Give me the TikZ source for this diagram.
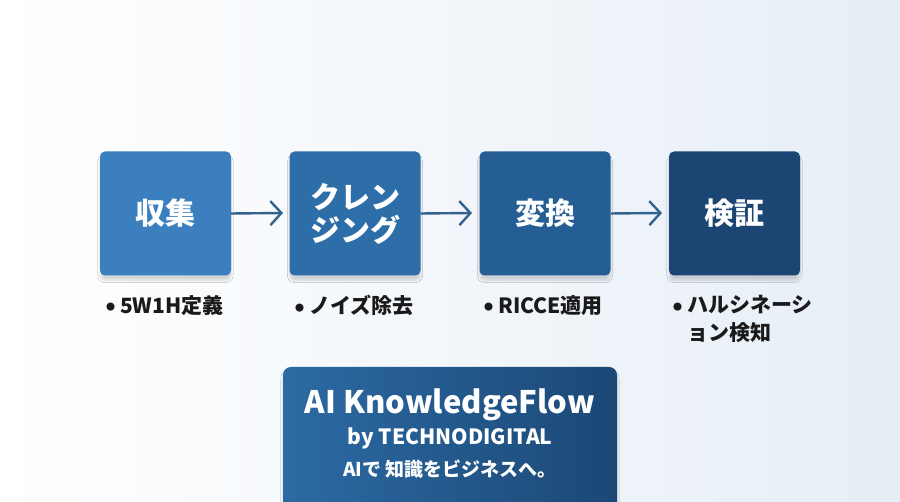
\documentclass[tikz,border=0pt]{standalone}
\usepackage{fontspec}
\setmainfont{Noto Sans CJK JP}
\usetikzlibrary{arrows.meta,shadows.blur}
\definecolor{cA}{HTML}{3B7FBE}
\definecolor{cB}{HTML}{2E6EA8}
\definecolor{cC}{HTML}{245E95}
\definecolor{cD}{HTML}{1B4673}
\definecolor{arr}{HTML}{33628F}
\definecolor{txt}{HTML}{1A1A1A}
\definecolor{bgR}{HTML}{E6EEF6}
\definecolor{fL}{HTML}{2C6AA4}
\definecolor{fR}{HTML}{1B4875}
\newcommand{\bdot}{\raisebox{0.2ex}{\fontsize{9}{9}\selectfont ●}\hspace{5pt}}
\tikzset{
  stepbox/.style={rounded corners=5pt, minimum width=131pt, minimum height=124pt,
    text=white, font=\fontsize{30}{33}\selectfont\bfseries, align=center,
    blur shadow={shadow xshift=0pt, shadow yshift=-5pt, shadow blur steps=10, shadow opacity=15}},
  flowarrow/.style={draw=arr, line width=2.4pt, -{Straight Barb[length=11pt,width=24pt,line width=2.4pt]}},
  bullettext/.style={anchor=north west, text=txt, font=\fontsize{21}{28}\selectfont\bfseries, align=left, inner sep=0pt}
}
\begin{document}
\begin{tikzpicture}[x=1pt,y=1pt]
\useasboundingbox (0,0) rectangle (900,502);
\shade[shading angle=110, left color=white, right color=bgR] (0,0) rectangle (900,502);
% step boxes
\node[stepbox, fill=cA] (s1) at (165.5,288.5) {収集};
\node[stepbox, fill=cB] (s2) at (355,288.5) {クレン\\ジング};
\node[stepbox, fill=cC] (s3) at (545,288.5) {変換};
\node[stepbox, fill=cD] (s4) at (734.5,288.5) {検証};
% arrows
\coordinate (a1) at (283,289);
\coordinate (a2) at (472,289);
\coordinate (a3) at (662,289);
\draw[flowarrow] (s1.east) -- (a1);
\draw[flowarrow] (s2.east) -- (a2);
\draw[flowarrow] (s3.east) -- (a3);
% bullets
\node[bullettext] (b1) at (106,207) {\bdot 5W1H定義};
\node[bullettext] (b2) at (295,207) {\bdot ノイズ除去};
\node[bullettext] (b3) at (484,207) {\bdot RICCE適用};
\node[bullettext] (b4) at (673,207) {\bdot ハルシネーシ\\\hphantom{\bdot}ョン検知};
% footer
\begin{scope}
\clip (0,0) rectangle (900,502);
\shade[left color=fL, right color=fR, rounded corners=8pt,
  blur shadow={shadow xshift=0pt, shadow yshift=-4pt, shadow blur steps=10, shadow opacity=15}]
  (283,-20) rectangle (617,135);
\end{scope}
\node[text=white, font=\fontsize{31}{34}\selectfont\bfseries] (t1) at (450,97) {AI KnowledgeFlow};
\node[text=white, font=\fontsize{21}{24}\selectfont\bfseries] (t2) at (450,64) {by TECHNODIGITAL};
\node[text=white, font=\fontsize{19}{22}\selectfont\bfseries] (t3) at (450,33) {AIで 知識をビジネスへ。};
\end{tikzpicture}
\end{document}
